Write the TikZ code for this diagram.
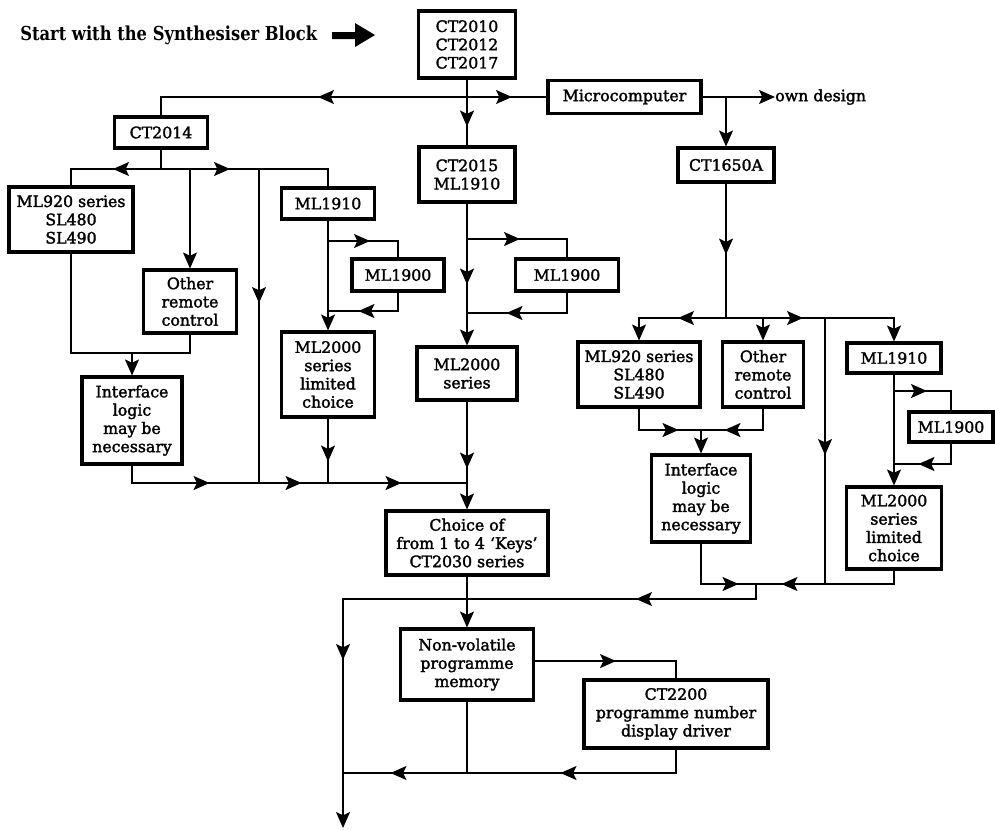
\documentclass[tikz,border=0pt]{standalone}
\usepackage{fontspec}
\setmainfont{DejaVu Serif}
\newfontfamily\bxfam{DejaVu Serif}[FakeBold=2,Ligatures=TeX]
\newfontfamily\ttlfam{DejaVu Serif}[FakeStretch=0.85]
\usetikzlibrary{arrows.meta,decorations.markings}
\newcommand\bxfont{\bxfam\fontsize{11.8}{13.7}\selectfont}
\newcommand\ttlfont{\ttlfam\bfseries\fontsize{14.4}{16}\selectfont}
\tikzset{
  >={Stealth[length=12pt,width=10.5pt,inset=2.5pt]},
  blk/.style 2 args={draw,line width=2.3pt,inner sep=0pt,align=center,
    minimum width=#1*0.75pt,minimum height=#2*0.75pt,font=\bxfont},
  wire/.style={line width=1.25pt},
  thinwire/.style={line width=0.95pt},
  tipat/.style={postaction={decorate,decoration={markings,
    mark=at position #1*0.75pt with {\arrow{>}}}}},
}
\begin{document}
\begin{tikzpicture}[x=0.75pt,y=-0.75pt]
\useasboundingbox (0,0) rectangle (995,829);

% heading and its block arrow
\node[anchor=west,font=\ttlfont,inner sep=0pt] (title) at (20,35) {Start with the Synthesiser Block};
\fill (332,32) -- (355,32) -- (355,23) -- (375,35) -- (355,47) -- (355,39) -- (332,39) -- cycle;

% blocks
\node[blk={97}{67}] (syn) at (467,44.5) {CT2010\\CT2012\\CT2017};
\node[blk={153}{33}] (micro) at (624.5,97) {Microcomputer};
\node[anchor=west,inner sep=0pt,font=\bxfont] (own) at (775,97) {own design};
\node[blk={93}{31}] (ct2014) at (161,132.5) {CT2014};
\node[blk={96}{55}] (ct2015) at (467,174.5) {CT2015\\ML1910};
\node[blk={96}{34}] (ct1650) at (726,165) {CT1650A};

\node[blk={124}{65}] (lml920) at (71,219.5) {ML920 series\\SL480\\SL490};
\node[blk={93}{63}] (lother) at (190,301.5) {Other\\remote\\control};
\node[blk={93}{31}] (lml1910) at (328,203.5) {ML1910};
\node[blk={92}{32}] (lml1900) at (398,275) {ML1900};
\node[blk={93}{85}] (lml2000) at (328,374.5) {ML2000\\series\\limited\\choice};
\node[blk={100}{87}] (lintf) at (132,420.5) {Interface\\logic\\may be\\necessary};

\node[blk={103}{32}] (mml1900) at (567,275) {ML1900};
\node[blk={100}{53}] (mml2000) at (467,373.5) {ML2000\\series};

\node[blk={122}{65}] (rml920) at (639,374.5) {ML920 series\\SL480\\SL490};
\node[blk={81}{65}] (rother) at (763,374.5) {Other\\remote\\control};
\node[blk={94}{30}] (rml1910) at (894,358) {ML1910};
\node[blk={84}{30}] (rml1900) at (951,427) {ML1900};
\node[blk={99}{87}] (rintf) at (701,498.5) {Interface\\logic\\may be\\necessary};
\node[blk={95}{82}] (rml2000) at (894,528) {ML2000\\series\\limited\\choice};

\node[blk={162}{64}] (choice) at (467,543) {Choice of\\from 1 to 4 ‘Keys’\\CT2030 series};
\node[blk={133}{71}] (nonvol) at (467,664.5) {Non-volatile\\programme\\memory};
\node[blk={184}{68}] (ct2200) at (676,714) {CT2200\\programme number\\display driver};

% junction points
\coordinate (jA) at (467,97);
\coordinate (jM) at (726,97);
\coordinate (jR) at (726,318);
\coordinate (jRv) at (825,318);
\coordinate (jRb) at (825,584);
\coordinate (jI) at (701,430);
\coordinate (jC) at (756,584);
\coordinate (jL) at (343,599);
\coordinate (endB) at (343,828);
\coordinate (jT) at (161,169);
\coordinate (jLv) at (259,169);
\coordinate (jLb) at (259,483);
\coordinate (jI2) at (132,353);
\coordinate (jMb) at (467,483);
\coordinate (jLm) at (328,483);
\coordinate (jN) at (343,773);
\coordinate (jNm) at (467,773);
\coordinate (lpA) at (328,241);
\coordinate (lpB) at (328,311);
\coordinate (mpA) at (467,239);
\coordinate (mpB) at (467,313);
\coordinate (rpA) at (894,391);
\coordinate (rpB) at (894,464);

% top section
\draw[wire,tipat=47] (syn.south) -- (ct2015.north);
\draw[wire,tipat=149] (jA) -| (ct2014.north);
\draw[wire,tipat=45] (jA) -- (micro.west);
\draw[wire,->] (micro.east) -- (own.west);
\draw[wire,->] (jM) -- (ct1650.north);
\draw[wire,tipat=71] (ct1650.south) -- (jR);

% right branch
\draw[wire,tipat=48,->] (jR) -| (rml920.north);
\draw[wire,->] (jR) -| (rother.north);
\draw[wire,tipat=77,->] (jR) -| (rml1910.north);
\draw[wire,tipat=137] (jRv) -- (jRb);
\draw[wire,tipat=61] (rml920.south) |- (jI);
\draw[wire,tipat=60] (rother.south) |- (jI);
\draw[wire,->] (jI) -- (rintf.north);
\draw[wire,->] (rml1910.south) -- (rml2000.north);
\draw[wire,tipat=33] (rpA) -| (rml1900.north);
\draw[wire,tipat=53] (rml1900.south) |- (rpB);
\draw[thinwire,tipat=78] (rintf.south) |- (jC);
\draw[thinwire,tipat=126] (rml2000.south) |- (jC);
\draw[thinwire,tipat=135,tipat=489,->] (jC) |- (jL) -- (endB);

% middle branch
\draw[wire,tipat=81,->] (ct2015.south) -- (mml2000.north);
\draw[wire,tipat=53] (mpA) -| (mml1900.north);
\draw[wire,tipat=81] (mml1900.south) |- (mpB);
\draw[wire,tipat=67,->] (mml2000.south) -- (choice.north);

% left branch
\draw[wire] (ct2014.south) -- (jT);
\draw[wire,tipat=48] (jT) -| (lml920.north);
\draw[wire,->] (jT) -| (lother.north);
\draw[wire,tipat=69] (jT) -| (lml1910.north);
\draw[wire,tipat=134] (jLv) -- (jLb);
\draw[wire] (lml920.south) |- (jI2);
\draw[wire] (lother.south) |- (jI2);
\draw[wire,->] (jI2) -- (lintf.north);
\draw[wire,->] (lml1910.south) -- (lml2000.north);
\draw[wire,tipat=42] (lpA) -| (lml1900.north);
\draw[wire,tipat=58] (lml1900.south) |- (lpB);
\draw[wire,tipat=43] (lml2000.south) -- (jLm);
\draw[wire,tipat=95,tipat=187,tipat=287] (lintf.south) |- (jMb);

% memory and display section
\draw[thinwire,->] (choice.south) -- (nonvol.north);
\draw[thinwire,tipat=81] ([yshift=2.6pt]nonvol.east) -| (ct2200.north);
\draw[thinwire,tipat=139,tipat=309] (ct2200.south) |- (jN);
\draw[thinwire] (nonvol.south) -- (jNm);
\end{tikzpicture}
\end{document}
